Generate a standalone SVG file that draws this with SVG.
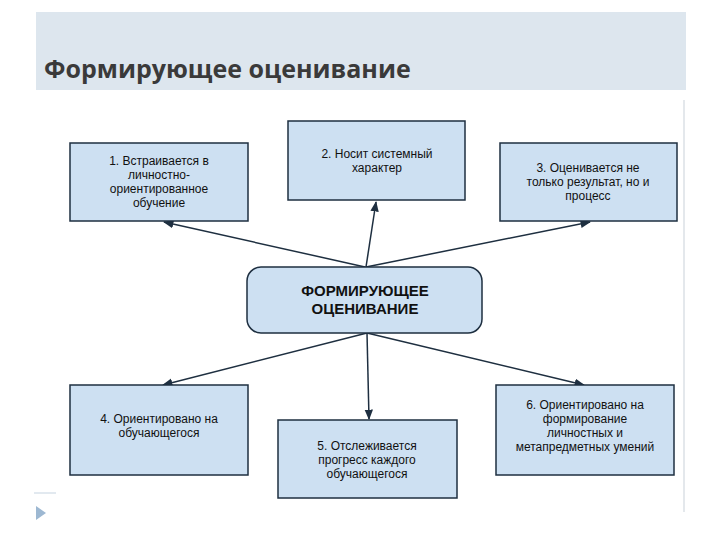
<svg xmlns="http://www.w3.org/2000/svg" width="720" height="540" viewBox="0 0 720 540">
<defs>
<style>
.box{fill:#cde0f2;stroke:#1e2f40;stroke-width:1.5}
.t{font-family:"Liberation Sans",Arial,sans-serif;font-size:12px;fill:#111;text-anchor:middle}
.c{font-family:"Liberation Sans",Arial,sans-serif;font-size:15px;font-weight:bold;fill:#111;text-anchor:middle}
.ln{stroke:#1e2f40;stroke-width:1.5;fill:none;marker-end:url(#ah)}
</style>
<marker id="ah" viewBox="0 0 10 10" refX="9" refY="5" markerWidth="7" markerHeight="7" orient="auto"><path d="M0,1 L10,5 L0,9 z" fill="#1e2f40"/></marker>
</defs>
<rect width="720" height="540" fill="#fff"/>
<rect x="36" y="12" width="650" height="78" fill="#dde6ee"/>
<text x="44" y="78" font-family="'Open Sans','DejaVu Sans',sans-serif" font-size="25" font-weight="bold" fill="#3a3a3a">Формирующее оценивание</text>
<line x1="684" y1="100" x2="684" y2="512" stroke="#e4e8ec" stroke-width="2"/>
<line x1="34" y1="493" x2="56" y2="493" stroke="#c5d3e0" stroke-width="1"/>
<path d="M36,506 L46,513 L36,520 z" fill="#9db8d2"/>
<g id="connectors">
<line class="ln" x1="365" y1="267" x2="164" y2="222"/>
<line class="ln" x1="366" y1="267" x2="376" y2="202"/>
<line class="ln" x1="366" y1="267" x2="590" y2="222"/>
<line class="ln" x1="367" y1="333" x2="163" y2="385"/>
<line class="ln" x1="367" y1="333" x2="369" y2="419"/>
<line class="ln" x1="367" y1="333" x2="584" y2="385"/>
</g>
<g id="n1"><rect class="box" x="70" y="143" width="178" height="78"/>
<text class="t" x="159" y="165">1. Встраивается в</text><text class="t" x="159" y="179">личностно-</text><text class="t" x="159" y="193">ориентированное</text><text class="t" x="159" y="207">обучение</text></g>
<g id="n2"><rect class="box" x="288" y="121" width="177" height="79"/>
<text class="t" x="377" y="158">2. Носит системный</text><text class="t" x="377" y="172">характер</text></g>
<g id="n3"><rect class="box" x="500" y="143" width="177" height="78"/>
<text class="t" x="588" y="172">3. Оценивается не</text><text class="t" x="588" y="186">только результат, но и</text><text class="t" x="588" y="200">процесс</text></g>
<g id="center"><rect class="box" x="247" y="267" width="235" height="66" rx="14" stroke-width="2"/>
<text class="c" x="365" y="296">ФОРМИРУЮЩЕЕ</text><text class="c" x="365" y="314">ОЦЕНИВАНИЕ</text></g>
<g id="n4"><rect class="box" x="70" y="385" width="178" height="90"/>
<text class="t" x="159" y="423">4. Ориентировано на</text><text class="t" x="159" y="437">обучающегося</text></g>
<g id="n5"><rect class="box" x="278" y="420" width="179" height="78"/>
<text class="t" x="367" y="450">5. Отслеживается</text><text class="t" x="367" y="464">прогресс каждого</text><text class="t" x="367" y="478">обучающегося</text></g>
<g id="n6"><rect class="box" x="496" y="385" width="178" height="90"/>
<text class="t" x="585" y="409">6. Ориентировано на</text><text class="t" x="585" y="423">формирование</text><text class="t" x="585" y="437">личностных и</text><text class="t" x="585" y="451">метапредметных умений</text></g>
</svg>
